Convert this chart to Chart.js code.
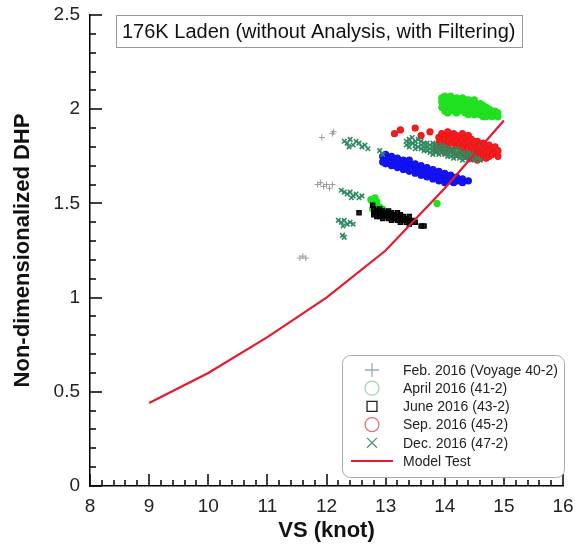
<!DOCTYPE html>
<html lang="en">
<head>
<meta charset="UTF-8">
<title>176K Laden DHP</title>
<script src="https://cdn.jsdelivr.net/npm/chart.js"></script>
<style>
    body { margin: 0; background: #fff; }
    .chart-container { width: 575px; height: 544px; position: relative; }
</style>
</head>
<body>
<div class="chart-container">
    <canvas id="dhpChart"></canvas>
</div>
<script>
    // --- data ---
    const xTicks = [8, 9, 10, 11, 12, 13, 14, 15, 16];
    const yTicks = [0, 0.5, 1, 1.5, 2, 2.5];

    const modelSpeed = [9, 10, 11, 12, 13, 14, 15];
    const modelDHP = [0.44, 0.60, 0.79, 1.00, 1.25, 1.58, 1.94];

    const feb2016 = [
        [11.55, 1.21], [11.6, 1.22], [11.65, 1.21],
        [11.85, 1.60], [11.9, 1.61], [11.95, 1.59], [12.0, 1.60], [12.05, 1.58], [12.1, 1.60],
        [11.92, 1.85], [12.1, 1.87], [12.12, 1.88], [12.3, 1.33]
    ];

    const apr2016 = [
        [13.95, 2.04], [13.95, 2.01], [13.95, 2.06],
        [14.0, 2.07], [14.0, 2.03], [14.0, 1.99], [14.0, 2.05],
        [14.05, 2.02], [14.05, 2.06], [14.05, 1.98],
        [14.1, 2.04], [14.1, 2.00], [14.1, 2.07], [14.1, 2.02],
        [14.15, 2.05], [14.15, 1.99], [14.15, 2.03],
        [14.2, 2.06], [14.2, 2.02], [14.2, 1.98], [14.2, 2.04],
        [14.25, 2.00], [14.25, 2.05], [14.25, 2.03],
        [14.3, 2.04], [14.3, 1.99], [14.3, 2.06], [14.3, 2.01],
        [14.35, 2.03], [14.35, 1.98], [14.35, 2.05],
        [14.4, 2.02], [14.4, 2.05], [14.4, 1.97], [14.4, 2.00],
        [14.45, 2.04], [14.45, 1.99], [14.45, 2.01],
        [14.5, 2.03], [14.5, 1.97], [14.5, 2.00], [14.5, 2.05],
        [14.55, 2.02], [14.55, 1.98], [14.55, 2.00],
        [14.6, 1.97], [14.6, 2.01], [14.6, 2.03], [14.6, 1.99],
        [14.65, 2.00], [14.65, 1.96], [14.65, 2.02],
        [14.7, 1.98], [14.7, 2.01], [14.7, 1.96],
        [14.75, 1.99], [14.75, 1.97], [14.75, 2.00],
        [14.8, 1.96], [14.8, 1.99], [14.8, 1.98],
        [14.85, 1.97], [14.85, 1.99], [14.9, 1.98], [14.9, 1.96],
        // small group near 12.8 knots
        [12.75, 1.52], [12.8, 1.49], [12.85, 1.51], [12.9, 1.48], [12.82, 1.53],
        [12.88, 1.46], [12.95, 1.47], [13.0, 1.45], [12.78, 1.47], [13.87, 1.50]
    ];

    const jun2016 = [
        [12.8, 1.47], [12.8, 1.45], [12.8, 1.44],
        [12.85, 1.46], [12.85, 1.43],
        [12.9, 1.47], [12.9, 1.45], [12.9, 1.43],
        [12.95, 1.46], [12.95, 1.44], [12.95, 1.42],
        [13.0, 1.45], [13.0, 1.43],
        [13.05, 1.46], [13.05, 1.44], [13.05, 1.42],
        [13.1, 1.45], [13.1, 1.43], [13.1, 1.41],
        [13.15, 1.44], [13.15, 1.42],
        [13.2, 1.45], [13.2, 1.43], [13.2, 1.41],
        [13.25, 1.44], [13.25, 1.42], [13.25, 1.40],
        [13.3, 1.43], [13.3, 1.41],
        [13.35, 1.42], [13.35, 1.40],
        [13.4, 1.43], [13.4, 1.41], [13.4, 1.39],
        [13.45, 1.41], [13.45, 1.40], [13.5, 1.40],
        [12.55, 1.45], [13.6, 1.38], [13.65, 1.38], [12.78, 1.49]
    ];

    const sep2016 = [
        [13.85, 1.80], [13.85, 1.78],
        [13.9, 1.85], [13.9, 1.82], [13.9, 1.79],
        [13.95, 1.87], [13.95, 1.83],
        [14.0, 1.86], [14.0, 1.84], [14.0, 1.81], [14.0, 1.77],
        [14.05, 1.88], [14.05, 1.83], [14.05, 1.80],
        [14.1, 1.86], [14.1, 1.84], [14.1, 1.78],
        [14.15, 1.87], [14.15, 1.82], [14.15, 1.85],
        [14.2, 1.86], [14.2, 1.83], [14.2, 1.80], [14.2, 1.76],
        [14.25, 1.85], [14.25, 1.81],
        [14.3, 1.87], [14.3, 1.84], [14.3, 1.80], [14.3, 1.77],
        [14.35, 1.85], [14.35, 1.82], [14.35, 1.75],
        [14.4, 1.86], [14.4, 1.83], [14.4, 1.79], [14.4, 1.76],
        [14.45, 1.84], [14.45, 1.80], [14.45, 1.77], [14.45, 1.74],
        [14.5, 1.82], [14.5, 1.78], [14.5, 1.75],
        [14.55, 1.83], [14.55, 1.79], [14.55, 1.76], [14.55, 1.73],
        [14.6, 1.81], [14.6, 1.77], [14.6, 1.74],
        [14.65, 1.79], [14.65, 1.76], [14.65, 1.82],
        [14.7, 1.80], [14.7, 1.77], [14.7, 1.74],
        [14.75, 1.78], [14.75, 1.75], [14.75, 1.81],
        [14.8, 1.79], [14.8, 1.76], [14.85, 1.77], [14.85, 1.80],
        [14.9, 1.78], [14.9, 1.75],
        [13.15, 1.87], [13.25, 1.89], [13.5, 1.90], [13.75, 1.88], [13.6, 1.86]
    ];

    const dec2016 = [
        [13.35, 1.83], [13.35, 1.81],
        [13.4, 1.84], [13.4, 1.82], [13.4, 1.80],
        [13.45, 1.85], [13.45, 1.82],
        [13.5, 1.83], [13.5, 1.81], [13.5, 1.79],
        [13.55, 1.84], [13.55, 1.80],
        [13.6, 1.83], [13.6, 1.81], [13.6, 1.79],
        [13.65, 1.82], [13.65, 1.80], [13.65, 1.78],
        [13.7, 1.82], [13.7, 1.80], [13.7, 1.78],
        [13.75, 1.81], [13.75, 1.79], [13.75, 1.77],
        [13.8, 1.80], [13.8, 1.78], [13.8, 1.76], [13.8, 1.82],
        [13.85, 1.81], [13.85, 1.79], [13.85, 1.77],
        [13.9, 1.80], [13.9, 1.78], [13.9, 1.76],
        [13.95, 1.79], [13.95, 1.77], [13.95, 1.81],
        [14.0, 1.80], [14.0, 1.78], [14.0, 1.76],
        [14.05, 1.79], [14.05, 1.77], [14.05, 1.75],
        [14.1, 1.79], [14.1, 1.77], [14.1, 1.75],
        [14.15, 1.78], [14.15, 1.76], [14.15, 1.74],
        [14.2, 1.77], [14.2, 1.75], [14.2, 1.79],
        [14.25, 1.76], [14.25, 1.74], [14.25, 1.78],
        [14.3, 1.77], [14.3, 1.75], [14.3, 1.73],
        [14.35, 1.76], [14.35, 1.74],
        [14.4, 1.75], [14.4, 1.77], [14.4, 1.73],
        [14.45, 1.74], [14.45, 1.76],
        [14.5, 1.75], [14.5, 1.73], [14.55, 1.74], [14.6, 1.73],
        // smaller groups at lower speed
        [12.3, 1.83], [12.35, 1.82], [12.4, 1.84], [12.45, 1.81], [12.5, 1.83], [12.55, 1.82],
        [12.6, 1.80], [12.65, 1.81], [12.7, 1.79], [12.38, 1.80], [12.9, 1.78], [12.95, 1.76],
        [12.25, 1.57], [12.3, 1.56], [12.35, 1.55], [12.4, 1.56], [12.45, 1.54], [12.5, 1.55],
        [12.55, 1.53], [12.6, 1.54], [12.42, 1.53],
        [12.2, 1.41], [12.25, 1.40], [12.3, 1.41], [12.35, 1.39], [12.4, 1.40], [12.45, 1.39],
        [12.28, 1.38], [12.27, 1.33], [12.3, 1.32]
    ];

    const blueGroup = [
        [12.95, 1.75], [12.95, 1.72],
        [13.0, 1.76], [13.0, 1.73], [13.0, 1.71],
        [13.05, 1.74], [13.05, 1.72],
        [13.1, 1.75], [13.1, 1.72], [13.1, 1.70],
        [13.15, 1.73], [13.15, 1.71],
        [13.2, 1.74], [13.2, 1.71], [13.2, 1.69],
        [13.25, 1.72], [13.25, 1.70],
        [13.3, 1.73], [13.3, 1.71], [13.3, 1.68],
        [13.35, 1.72], [13.35, 1.69],
        [13.4, 1.71], [13.4, 1.69], [13.4, 1.67], [13.4, 1.73],
        [13.45, 1.70], [13.45, 1.68],
        [13.5, 1.71], [13.5, 1.68], [13.5, 1.66],
        [13.55, 1.69], [13.55, 1.67],
        [13.6, 1.70], [13.6, 1.67], [13.6, 1.65],
        [13.65, 1.68], [13.65, 1.66],
        [13.7, 1.69], [13.7, 1.66], [13.7, 1.64],
        [13.75, 1.67], [13.75, 1.65],
        [13.8, 1.68], [13.8, 1.65], [13.8, 1.63],
        [13.85, 1.66], [13.85, 1.64],
        [13.9, 1.67], [13.9, 1.64], [13.9, 1.62],
        [13.95, 1.65], [13.95, 1.63],
        [14.0, 1.66], [14.0, 1.63], [14.0, 1.61],
        [14.05, 1.64], [14.05, 1.62],
        [14.1, 1.65], [14.1, 1.62],
        [14.15, 1.63], [14.15, 1.61],
        [14.2, 1.64], [14.2, 1.62], [14.25, 1.62],
        [14.3, 1.63], [14.3, 1.61], [14.4, 1.62]
    ];

    const toPts = arr => arr.map(p => ({ x: p[0], y: p[1] }));
    const FONT = '"Liberation Sans", Arial, sans-serif';

    // inward ticks, title box and legend, all drawn after the chart
    const overlays = {
        id: 'overlays',
        afterDraw(chart) {
            const c = chart.ctx;
            const area = chart.chartArea;
            const xs = chart.scales.x, ys = chart.scales.y;
            c.save();

            // minor / major ticks pointing into the plot
            c.strokeStyle = '#000';
            c.lineWidth = 1.5;
            for (let v = 0; v <= 25; v++) {
                const py = Math.round(ys.getPixelForValue(v / 10));
                const len = v % 5 === 0 ? 12 : 6;
                c.beginPath();
                c.moveTo(area.left, py);
                c.lineTo(area.left + len, py);
                c.stroke();
            }
            for (let v = 0; v <= 40; v++) {
                const px = Math.round(xs.getPixelForValue(8 + v / 5));
                const len = v % 5 === 0 ? 12 : 6;
                c.beginPath();
                c.moveTo(px, area.bottom);
                c.lineTo(px, area.bottom - len);
                c.stroke();
            }

            // title box
            c.strokeStyle = '#999';
            c.lineWidth = 1;
            c.strokeRect(area.left + 26.5, area.top + 0.5, 406, 32);
            c.fillStyle = '#111';
            c.font = '20px ' + FONT;
            c.textBaseline = 'middle';
            c.fillText('176K Laden (without Analysis, with Filtering)', area.left + 32, area.top + 17);

            // legend box
            c.beginPath();
            c.roundRect(342.5, 355.5, 222, 122, 8);
            c.fillStyle = '#fff';
            c.fill();
            c.strokeStyle = '#aaa';
            c.stroke();

            c.font = '14px ' + FONT;
            const rows = chart.data.datasets.filter(d => d.inLegend);
            rows.sort((a, b) => a.legendRow - b.legendRow);
            rows.forEach((ds, i) => {
                const cy = 370 + i * 18.2;
                const mx = 372;
                if (ds.type === 'line') {
                    c.strokeStyle = ds.borderColor;
                    c.lineWidth = 2;
                    c.beginPath();
                    c.moveTo(mx - 21, cy);
                    c.lineTo(mx + 21, cy);
                    c.stroke();
                } else {
                    c.fillStyle = 'rgba(0,0,0,0)';
                    c.strokeStyle = ds.legendColor;
                    c.lineWidth = 1.3;
                    Chart.helpers.drawPoint(c, {
                        pointStyle: ds.pointStyle,
                        radius: 7,
                        borderWidth: 1.3,
                        rotation: 0
                    }, mx, cy);
                }
                c.fillStyle = '#222';
                c.fillText(ds.label, 403, cy + 1);
            });
            c.restore();
        }
    };

    const ctx = document.getElementById('dhpChart').getContext('2d');
    const dhpChart = new Chart(ctx, {
        type: 'scatter',
        data: {
            datasets: [
                {
                    type: 'line', label: 'Model Test', inLegend: true, legendRow: 5, order: 0,
                    data: modelSpeed.map((s, i) => ({ x: s, y: modelDHP[i] })),
                    borderColor: '#e31b2d', borderWidth: 2.2, pointRadius: 0, tension: 0, fill: false
                },
                {
                    label: 'Dec. 2016 (47-2)', inLegend: true, legendRow: 4, order: 1,
                    data: toPts(dec2016), pointStyle: 'crossRot', pointRadius: 3.2,
                    borderColor: '#2e8a60', borderWidth: 1.6, legendColor: '#4a9670'
                },
                {
                    label: 'Feb. 2016 (Voyage 40-2)', inLegend: true, legendRow: 0, order: 2,
                    data: toPts(feb2016), pointStyle: 'cross', pointRadius: 3,
                    borderColor: '#9a9a9a', borderWidth: 1, legendColor: '#a8a8a8'
                },
                {
                    label: 'June 2016 (43-2)', inLegend: true, legendRow: 2, order: 3,
                    data: toPts(jun2016), pointStyle: 'rect', pointRadius: 3,
                    borderColor: '#000', backgroundColor: 'rgba(0,0,0,0.85)', borderWidth: 1.2, legendColor: '#222'
                },
                {
                    label: 'April 2016 (41-2)', inLegend: true, legendRow: 1, order: 4,
                    data: toPts(apr2016), pointStyle: 'circle', pointRadius: 3,
                    borderColor: '#1fe01f', backgroundColor: '#22e322', borderWidth: 1.2, legendColor: '#9fd6ae'
                },
                {
                    label: 'blue', inLegend: false, order: 5,
                    data: toPts(blueGroup), pointStyle: 'circle', pointRadius: 3,
                    borderColor: '#1010f0', backgroundColor: '#1515ee', borderWidth: 1.2
                },
                {
                    label: 'Sep. 2016 (45-2)', inLegend: true, legendRow: 3, order: 6,
                    data: toPts(sep2016), pointStyle: 'circle', pointRadius: 3,
                    borderColor: '#f01515', backgroundColor: '#f02020', borderWidth: 1.2, legendColor: '#e0707e'
                }
            ]
        },
        options: {
            responsive: true,
            maintainAspectRatio: false,
            animation: false,
            layout: { padding: { top: 15, right: 12, left: 0, bottom: 0 } },
            plugins: {
                legend: { display: false },
                tooltip: { enabled: false }
            },
            scales: {
                x: {
                    type: 'linear', min: 8, max: 16,
                    afterBuildTicks: s => { s.ticks = xTicks.map(v => ({ value: v })); },
                    afterFit: s => { s.height = 58; s.paddingLeft = 0; s.paddingRight = 0; },
                    grid: { display: false, drawTicks: false },
                    border: { display: true, color: '#000', width: 1.5 },
                    ticks: {
                        color: '#222', padding: 9, font: { family: FONT, size: 19 },
                        callback: v => String(v)
                    },
                    title: {
                        display: true, text: 'VS (knot)', color: '#111', padding: { top: 0, bottom: 0 },
                        font: { family: FONT, size: 22, weight: 'bold' }
                    }
                },
                y: {
                    type: 'linear', min: 0, max: 2.5,
                    afterBuildTicks: s => { s.ticks = yTicks.map(v => ({ value: v })); },
                    afterFit: s => { s.width = 90; s.paddingTop = 0; s.paddingBottom = 0; },
                    grid: { display: false, drawTicks: false },
                    border: { display: true, color: '#000', width: 1.5 },
                    ticks: {
                        color: '#222', padding: 10, font: { family: FONT, size: 19 },
                        callback: v => String(v)
                    },
                    title: {
                        display: true, text: 'Non-dimensionalized DHP', color: '#111', padding: { top: 10, bottom: 0 },
                        font: { family: FONT, size: 22, weight: 'bold' }
                    }
                }
            }
        },
        plugins: [overlays]
    });
</script>
</body>
</html>
